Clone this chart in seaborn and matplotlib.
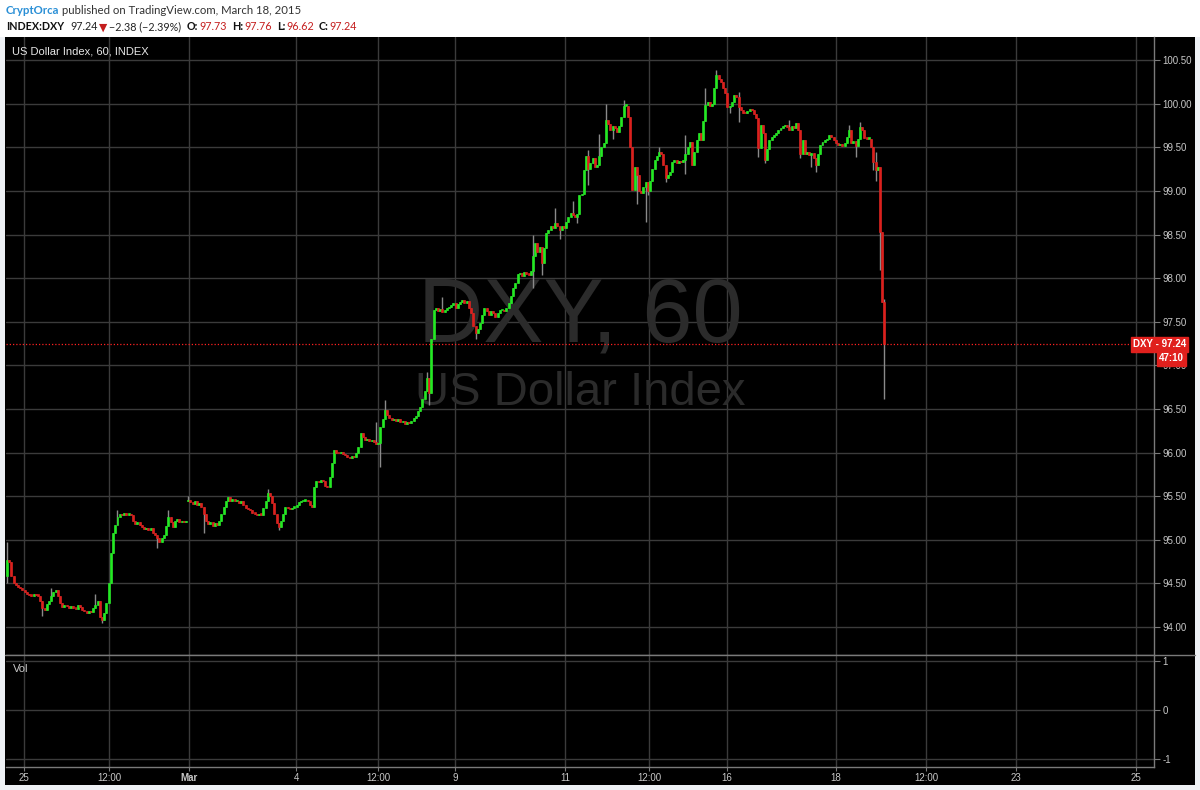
import numpy as np
import pandas as pd
import matplotlib
matplotlib.use("Agg")
import matplotlib.pyplot as plt
import matplotlib.transforms as mtransforms
from matplotlib.patches import Rectangle
from matplotlib.lines import Line2D
import seaborn as sns

# ---------------- data (hourly DXY closes) ----------------
closes = [
    94.77, 94.74, 94.58, 94.50, 94.48, 94.46, 94.45, 94.43, 94.40, 94.38,
    94.37, 94.36, 94.38, 94.37, 94.36, 94.30, 94.22, 94.20, 94.26, 94.30,
    94.35, 94.40, 94.43, 94.36, 94.28, 94.23, 94.25, 94.24, 94.22, 94.24,
    94.22, 94.21, 94.25, 94.23, 94.20, 94.18, 94.16, 94.18, 94.17, 94.22,
    94.25, 94.30, 94.12, 94.08, 94.16, 94.28, 94.50, 94.85, 95.08, 95.17,
    95.26, 95.30, 95.28, 95.31, 95.29, 95.30, 95.28, 95.22, 95.18, 95.20,
    95.17, 95.15, 95.12, 95.14, 95.11, 95.13, 95.08, 95.05, 95.02, 94.98,
    95.02, 95.06, 95.16, 95.26, 95.20, 95.15, 95.22, 95.24, 95.20, 95.21,
    95.20, 95.22, 95.46, 95.43, 95.41, 95.44, 95.40, 95.42, 95.38, 95.30,
    95.22, 95.18, 95.20, 95.16, 95.19, 95.17, 95.22, 95.30, 95.38, 95.45,
    95.49, 95.45, 95.47, 95.44, 95.45, 95.42, 95.44, 95.40, 95.36, 95.35,
    95.34, 95.31, 95.30, 95.28, 95.30, 95.29, 95.36, 95.45, 95.54, 95.50,
    95.42, 95.30, 95.19, 95.15, 95.22, 95.30, 95.38, 95.36, 95.35, 95.37,
    95.38, 95.40, 95.43, 95.44, 95.45, 95.46, 95.44, 95.40, 95.38, 95.60,
    95.68, 95.66, 95.69, 95.67, 95.62, 95.60, 95.72, 95.88, 96.03, 96.00,
    95.99, 96.01, 95.98, 95.97, 95.95, 95.94, 95.96, 95.95, 96.00, 96.06,
    96.22, 96.18, 96.14, 96.16, 96.13, 96.15, 96.12, 96.10, 96.11, 96.29,
    96.38, 96.49, 96.43, 96.40, 96.37, 96.39, 96.36, 96.38, 96.35, 96.36,
    96.33, 96.35, 96.34, 96.36, 96.40, 96.42, 96.48, 96.52, 96.62, 96.71,
    96.86, 96.68, 97.30, 97.64, 97.66, 97.62, 97.65, 97.61, 97.64, 97.66,
    97.67, 97.69, 97.71, 97.66, 97.70, 97.73, 97.75, 97.72, 97.74, 97.66,
    97.60, 97.45, 97.37, 97.42, 97.49, 97.58, 97.66, 97.62, 97.58, 97.62,
    97.60, 97.56, 97.60, 97.63, 97.64, 97.62, 97.66, 97.72, 97.80, 97.89,
    97.95, 98.05, 98.06, 98.03, 98.07, 98.05, 98.04, 98.08, 98.25, 98.40,
    98.30, 98.36, 98.17, 98.35, 98.52, 98.55, 98.60, 98.58, 98.63, 98.60,
    98.55, 98.60, 98.58, 98.65, 98.70, 98.75, 98.72, 98.70, 98.74, 98.95,
    98.96, 99.24, 99.40, 99.25, 99.32, 99.38, 99.28, 99.30, 99.40, 99.50,
    99.55, 99.81, 99.77, 99.70, 99.74, 99.72, 99.68, 99.74, 99.85, 99.98,
    99.98, 99.85, 99.50, 99.01, 99.28, 99.18, 99.00, 98.98, 99.05, 99.10,
    99.00, 99.12, 99.25, 99.36, 99.40, 99.45, 99.42, 99.30, 99.15, 99.18,
    99.22, 99.33, 99.35, 99.32, 99.34, 99.33, 99.36, 99.43, 99.50, 99.56,
    99.30, 99.45, 99.58, 99.67, 99.58, 99.80, 99.99, 100.02, 99.98, 100.00,
    100.18, 100.33, 100.28, 100.25, 100.18, 100.12, 99.96, 99.98, 100.02, 100.10,
    100.08, 99.96, 99.93, 99.90, 99.89, 99.92, 99.94, 99.93, 99.88, 99.84,
    99.49, 99.76, 99.66, 99.36, 99.48, 99.58, 99.62, 99.64, 99.66, 99.70,
    99.72, 99.74, 99.76, 99.73, 99.70, 99.74, 99.72, 99.78, 99.70, 99.43,
    99.58, 99.43, 99.45, 99.41, 99.44, 99.38, 99.30, 99.42, 99.53, 99.56,
    99.58, 99.60, 99.64, 99.62, 99.58, 99.55, 99.53, 99.54, 99.52, 99.55,
    99.62, 99.70, 99.55, 99.57, 99.52, 99.60, 99.73, 99.70, 99.61, 99.60,
    99.60, 99.50, 99.33, 99.24, 99.27, 98.53, 97.73, 97.24,
]
first_open = 94.58
gap_opens = {82: 95.44}          # Sunday re-open after the weekend gap
wick_highs = {0: 94.97, 20: 94.45, 40: 94.38, 50: 95.34, 73: 95.34, 82: 95.50,
              118: 95.58, 167: 96.35, 171: 96.60, 190: 96.92, 197: 97.78,
              238: 98.50, 248: 98.80, 256: 98.88, 263: 99.47, 268: 99.65,
              271: 100.00, 279: 100.04, 295: 99.50, 307: 99.64, 316: 100.18,
              321: 100.39, 331: 100.14, 354: 99.81, 381: 99.76, 386: 99.79,
              393: 99.45, 397: 97.76}
wick_lows = {0: 94.50, 16: 94.13, 43: 94.05, 68: 94.91, 89: 95.08, 123: 95.11,
             169: 95.83, 191: 96.55, 212: 97.30, 238: 97.89, 242: 98.04,
             250: 98.45, 258: 98.63, 263: 99.07, 274: 99.60, 285: 98.85,
             289: 98.64, 290: 98.95, 298: 99.10, 307: 99.20, 327: 99.90,
             331: 99.79, 340: 99.39, 343: 99.32, 359: 99.38, 364: 99.28,
             366: 99.22, 384: 99.39, 392: 99.24, 393: 99.12, 395: 98.09,
             397: 96.62}

price_ticks = [94.0, 94.5, 95.0, 95.5, 96.0, 96.5, 97.0, 97.5, 98.0, 98.5, 99.0, 99.5, 100.0, 100.5]
time_labels = ["25", "12:00", "Mar", "4", "12:00", "9", "11", "12:00", "16", "18", "12:00", "23", "25"]
time_label_bars = [7.7, 46.2, 82.4, 130.8, 167.9, 202.7, 252.5, 290.5, 325.8, 375.1, 415.8, 456.6, 510.9]
vol_ticks = [-1, 0, 1]
last_price = 97.24
header_values = {"close": "97.24", "chg": "\u22122.38 (\u22122.39%)", "O": "97.73",
                 "H": "97.76", "L": "96.62", "C": "97.24"}

# ---------------- build OHLC frame ----------------
opens = [first_open] + closes[:-1]
for k, v in gap_opens.items():
    opens[k] = v
df = pd.DataFrame({"bar": np.arange(len(closes)), "open": opens, "close": closes})
df["high"] = df[["open", "close"]].max(axis=1)
df["low"] = df[["open", "close"]].min(axis=1)
for k, v in wick_highs.items():
    df.loc[k, "high"] = max(v, df.loc[k, "high"])
for k, v in wick_lows.items():
    df.loc[k, "low"] = min(v, df.loc[k, "low"])
df["up"] = df["close"] >= df["open"]

# ---------------- style ----------------
sns.set_theme(style="dark", rc={"axes.facecolor": "black", "figure.facecolor": "white"})
plt.rcParams["font.family"] = ["Liberation Sans", "DejaVu Sans"]

W, H = 1200, 790
def fx(px): return px / W
def fy(py): return 1 - py / H

GREEN = "#22ea22"
RED = "#dd1f1c"
WICK = "#8a8a8a"
GRID = "#3b3b3b"
AXC = "#7a7a7a"
TXT = "#c8c8c8"

fig = plt.figure(figsize=(12, 7.9), dpi=100)
fig.patches.append(Rectangle((0, 0), 1, fy(37), transform=fig.transFigure,
                             facecolor="#eef1f5", edgecolor="none", zorder=-20))
fig.patches.append(Rectangle((fx(5), fy(785)), fx(1190), (785 - 37) / H, transform=fig.transFigure,
                             facecolor="black", edgecolor="none", zorder=-10))

ax = fig.add_axes([fx(6), fy(655), fx(1148), (655 - 37) / H])
axv = fig.add_axes([fx(6), fy(767), fx(1148), (767 - 656) / H], sharex=ax)

for a in (ax, axv):
    a.set_facecolor("black")
    for s in ("left", "top"):
        a.spines[s].set_visible(False)
    a.spines["right"].set_color(AXC)
    a.spines["bottom"].set_color(AXC)
    a.spines["right"].set_linewidth(1)
    a.spines["bottom"].set_linewidth(1)
    a.yaxis.tick_right()
    a.grid(True, color=GRID, linewidth=1)
    a.set_axisbelow(True)
    a.tick_params(axis="y", direction="out", length=4, width=0.8, color=AXC,
                  labelsize=7, labelcolor=TXT, pad=2, right=True, left=False,
                  labelright=True, labelleft=False)

# ---------------- candles ----------------
colors = np.where(df["up"], GREEN, RED)
ax.vlines(df["bar"], df["low"], df["high"], color=WICK, linewidth=1, zorder=3)
body_bottom = df[["open", "close"]].min(axis=1)
body_h = (df["close"] - df["open"]).abs().clip(lower=0.014)
ax.bar(df["bar"], body_h, bottom=body_bottom, width=0.9, color=colors,
       edgecolor=colors, linewidth=0.45, zorder=4)

ax.set_xlim(-0.45, 519.0)
ax.set_ylim(93.679, 100.766)
ax.set_yticks(price_ticks)
ax.set_yticklabels([f"{v:.2f}" for v in price_ticks])
ax.set_xticks(time_label_bars)
ax.tick_params(axis="x", bottom=False, labelbottom=False)

# watermark
ax.text(0.5, 0.545, "DXY, 60", transform=ax.transAxes, fontsize=65, color="#2b2b2b",
        ha="center", va="center", zorder=1, family=["Liberation Sans"])
ax.text(0.5, 0.424, "US Dollar Index", transform=ax.transAxes, fontsize=34, color="#2b2b2b",
        ha="center", va="center", zorder=1, family=["Liberation Sans"])

# last price line and labels
ax.axhline(last_price, color="#ff2020", linestyle=(0, (1, 1.6)), linewidth=0.9, zorder=5)
blend = mtransforms.blended_transform_factory(fig.transFigure, ax.transData)
ax.text(fx(1133), last_price, f"DXY - {last_price:.2f}", transform=blend, fontsize=7,
        color="white", fontweight="bold", ha="left", va="center", zorder=6,
        bbox=dict(boxstyle="square,pad=0.22", facecolor="#e0201d", edgecolor="#e0201d"))
ax.annotate("47:10", xy=(fx(1159), last_price), xycoords=blend, xytext=(0, -14),
            textcoords="offset pixels", fontsize=7, color="white", fontweight="bold",
            ha="left", va="center", zorder=6, annotation_clip=False,
            bbox=dict(boxstyle="square,pad=0.22", facecolor="#e0201d", edgecolor="#e0201d"))

# volume pane
axv.set_ylim(-1.163, 1.102)
axv.set_yticks(vol_ticks)
axv.set_yticklabels([str(v) for v in vol_ticks])
axv.set_xticks(time_label_bars)
axv.set_xticklabels(time_labels)
axv.tick_params(axis="x", direction="out", length=3, width=0.8, color=AXC,
                labelsize=7, labelcolor=TXT, pad=1.5, bottom=True)
for lab in axv.get_xticklabels():
    if lab.get_text() == "Mar":
        lab.set_fontweight("bold")
fig.text(fx(13), fy(669), "Vol", fontsize=8, color=TXT, ha="left", va="center")

# separator between panes, full width
fig.lines.append(Line2D([fx(5), fx(1195)], [fy(655), fy(655)], transform=fig.transFigure,
                        color=AXC, linewidth=1))

# chart title inside
fig.text(fx(12), fy(52), "US Dollar Index, 60, INDEX", fontsize=8, color="#e6e6e6",
         ha="left", va="center")

# ---------------- header ----------------
hdr = ["Lato", "DejaVu Sans"]
renderer = fig.canvas.get_renderer()

def draw_runs(x_px, y_px, runs, size):
    x = x_px
    for gap, t, c, w in runs:
        x += gap
        tx = fig.text(fx(x), fy(y_px), t, fontsize=size, color=c, fontweight=w,
                      ha="left", va="center", family=hdr)
        x += tx.get_window_extent(renderer).width

draw_runs(6, 11, [(0, "CryptOrca", "#2a8fd6", "bold"),
                  (3, "published on TradingView.com, March 18, 2015", "#333333", "normal")], 8.2)
DR = "#c41d1d"
draw_runs(6, 27, [
    (0, "INDEX:DXY", "#111111", "bold"),
    (6, header_values["close"], "#222222", "normal"),
    (1, "\u25BC", DR, "normal"),
    (2, header_values["chg"], "#222222", "normal"),
    (6, "O:", "#111111", "bold"),
    (1, header_values["O"], DR, "normal"),
    (5, "H:", "#111111", "bold"),
    (1, header_values["H"], DR, "normal"),
    (5, "L:", "#111111", "bold"),
    (1, header_values["L"], DR, "normal"),
    (5, "C:", "#111111", "bold"),
    (1, header_values["C"], DR, "normal"),
], 7.75)

fig.savefig("out.png", dpi=100, facecolor="white")
